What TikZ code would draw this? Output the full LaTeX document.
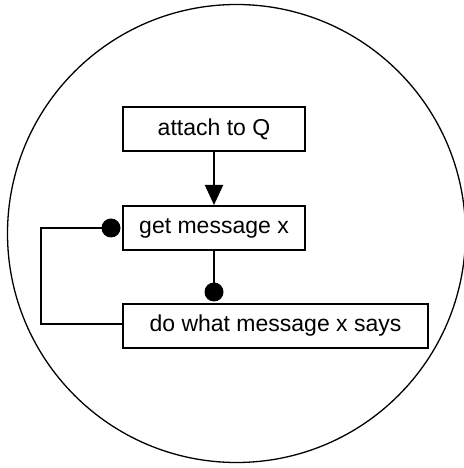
\documentclass[tikz,border=0pt]{standalone}
\usepackage{fontspec}
\setmainfont{Liberation Sans}
\usetikzlibrary{arrows.meta}
\begin{document}
\begin{tikzpicture}[x=1pt,y=1pt,
  stepbox/.style={draw, line width=2pt, minimum height=44pt, inner sep=0pt,
    font=\fontsize{23}{27}\selectfont},
  link/.style={line width=2pt},
  dot/.style={circle, fill=black, minimum size=19pt, inner sep=0pt}]
  \useasboundingbox (0,0) rectangle (463,468);
  % enclosing process circle
  \draw[line width=1.3pt] (236.5,234.5) circle (229);
  % the three steps
  \node[stepbox, minimum width=182pt] (attach) at (214,339) {attach to Q};
  \node[stepbox, minimum width=182pt] (get) at (214,240) {get message x};
  \node[stepbox, minimum width=305pt] (do) at (275.5,142) {do what message x says};
  % connectors
  \draw[link, -{Triangle[length=20pt,width=18pt]}] (attach.south -| 214,0) -- (get.north -| 214,0);
  \node[dot] (dotdo) at (214,176) {};
  \draw[link] (get.south -| 214,0) -- (dotdo.center);
  \node[dot] (dotget) at (111,240) {};
  \coordinate (cornerA) at (41,240);
  \coordinate (cornerB) at (41,144);
  \draw[link] (dotget.center) -- (cornerA) -- (cornerB) -- (do.west |- cornerB);
\end{tikzpicture}
\end{document}
